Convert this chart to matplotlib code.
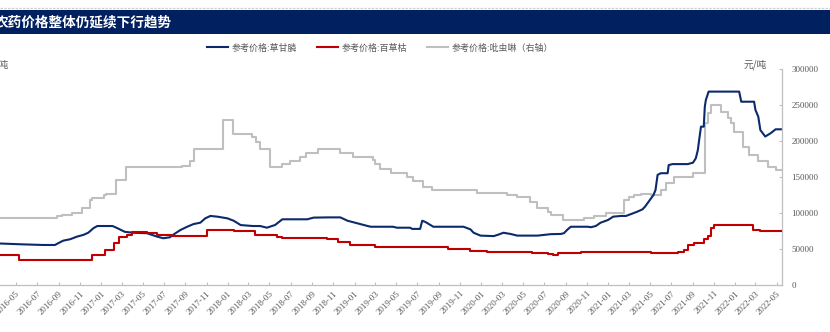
import matplotlib
matplotlib.use("Agg")
import matplotlib.pyplot as plt
import matplotlib.dates as mdates
import pandas as pd
from matplotlib.lines import Line2D
from matplotlib.patches import Rectangle

# 草甘膦 (left axis, 元/吨)
gly_dates = ["2016-03-01","2016-05-12","2016-07-18","2016-08-21","2016-08-30","2016-09-14","2016-10-04","2016-10-24","2016-11-11","2016-11-25","2016-12-10","2016-12-21",
             "2017-02-03","2017-02-17","2017-03-10","2017-04-03","2017-05-13","2017-06-11","2017-06-29","2017-07-18","2017-07-27","2017-08-17","2017-09-06","2017-09-24",
             "2017-10-14","2017-10-28","2017-11-12","2017-12-02","2017-12-31","2018-01-18","2018-02-07","2018-03-14","2018-04-04","2018-04-24","2018-05-08","2018-05-17",
             "2018-06-07","2018-08-18","2018-09-05","2018-10-18","2018-11-21","2018-12-12","2019-01-10","2019-02-08","2019-02-17","2019-04-22","2019-05-03","2019-06-10",
             "2019-06-16","2019-07-09","2019-07-15","2019-07-24","2019-08-16","2019-11-11","2019-12-01","2019-12-10","2019-12-30","2020-02-06","2020-02-17","2020-03-05",
             "2020-03-25","2020-04-14","2020-06-11","2020-07-19","2020-08-17","2020-08-26","2020-09-06","2020-09-15","2020-11-03","2020-11-12","2020-11-26","2020-12-10",
             "2020-12-31","2021-01-15","2021-02-07","2021-02-21","2021-03-06","2021-03-26","2021-04-10","2021-04-18","2021-04-27","2021-05-11","2021-05-17","2021-05-23",
             "2021-06-01","2021-06-21","2021-06-24","2021-07-05","2021-08-18","2021-09-02","2021-09-10","2021-09-16","2021-09-19","2021-09-25","2021-10-03","2021-10-06",
             "2021-10-09","2021-10-17","2022-01-13","2022-01-19","2022-02-25","2022-03-01","2022-03-09","2022-03-15","2022-03-29","2022-04-13","2022-04-28","2022-05-13"]
gly_vals = [17500,17100,16800,16800,17500,18600,19200,20300,21000,21900,23800,24700,
            24700,23800,22300,21900,21700,20300,19600,20000,21000,23000,24400,25500,
            26100,27900,28900,28600,27900,26900,25100,24700,24700,24000,24700,25100,
            27500,27500,28200,28300,28300,26900,25800,24700,24400,24400,24000,24000,
            23500,23500,26900,26400,24400,24400,23300,21900,20700,20500,21000,21900,
            21400,20700,20700,21300,21400,21700,23300,24400,24400,24200,24700,26100,
            27200,28600,28900,28900,29600,30700,31700,33000,34800,37600,39700,46000,
            46700,46700,50100,50500,50500,51100,52900,56400,59800,66100,66100,74400,
            77200,80700,80700,76500,76500,73000,70300,64700,62000,63300,65000,65000]

# 百草枯 (left axis)
pq_dates = ["2016-03-01","2016-05-09","2016-12-07","2017-01-11","2017-02-06","2017-02-23","2017-03-16","2017-03-31","2017-05-13","2017-06-11","2017-07-24",
            "2017-11-03","2018-01-18","2018-03-20","2018-05-23","2018-06-07","2018-10-15","2018-11-13","2018-12-20","2019-03-01","2019-09-26","2019-12-01",
            "2020-01-19","2020-05-27","2020-07-10","2020-07-27","2020-08-08","2020-10-14","2021-01-15","2021-05-03","2021-07-22","2021-08-06","2021-08-20",
            "2021-09-04","2021-10-03","2021-10-15","2021-10-23","2021-11-01","2022-02-22","2022-03-15","2022-05-13"]
pq_vals = [12600,10500,12600,14700,17800,20000,21000,22100,21700,21000,20500,
           23000,22600,21000,20300,19600,19200,18200,16800,16100,15100,14400,
           14000,13300,12900,12600,13600,13800,14000,13600,14000,14700,16800,
           17800,19200,20500,23800,25100,23000,22600,22600]

# 吡虫啉 (right axis)
imi_dates = ["2016-03-01","2016-08-27","2016-09-11","2016-10-10","2016-11-08","2016-11-29","2016-12-07","2017-01-08","2017-01-14","2017-02-14","2017-03-13","2017-05-27",
             "2017-08-23","2017-09-15","2017-09-27","2017-12-19","2018-01-15","2018-03-12","2018-03-23","2018-04-04","2018-05-03","2018-06-07","2018-06-30","2018-07-28",
             "2018-08-15","2018-09-19","2018-11-21","2018-12-29","2019-02-22","2019-03-01","2019-03-15","2019-04-16","2019-06-01","2019-06-19","2019-07-17","2019-08-13",
             "2019-11-02","2019-12-21","2020-03-16","2020-04-14","2020-05-21","2020-06-11","2020-07-10","2020-07-19","2020-08-23","2020-10-22","2020-11-20","2020-12-25",
             "2021-02-16","2021-03-01","2021-03-15","2021-04-04","2021-05-03","2021-06-01","2021-06-15","2021-07-08","2021-09-02","2021-10-06","2021-10-15","2021-10-23",
             "2021-11-22","2021-12-12","2021-12-20","2021-12-29","2022-01-24","2022-02-11","2022-03-07","2022-04-05","2022-04-28","2022-05-13"]
imi_vals = [94000,96000,97500,100000,108000,118000,121000,125000,127000,146000,165000,164000,
            166000,172000,190000,229000,210000,206000,199000,189000,165000,168000,173000,178000,
            184000,189000,184000,178000,174000,168000,161000,156000,150000,145000,137000,133000,
            132000,128500,125000,123000,116000,107000,102000,97500,90500,94000,96000,101000,
            118000,123000,125000,127000,125000,132000,142000,151000,156000,225000,239000,251000,
            241000,232000,226000,213000,192000,181000,172000,165000,160000,160000]

labels = ["参考价格:草甘膦", "参考价格:百草枯", "参考价格:吡虫啉（右轴）"]
colors = ["#0b2a6b", "#c00000", "#bfbfbf"]
title = "农药价格整体仍延续下行趋势"
right_ticks = [0, 50000, 100000, 150000, 200000, 250000, 300000]

W, H = 830, 332
CJK = ["Noto Sans CJK SC", "DejaVu Sans"]
NUM = ["Liberation Serif", "DejaVu Serif"]
GREY_TXT = "#595959"
AX_GREY = "#bfbfbf"


def fx(px): return px / W
def fy(py): return 1 - py / H


fig = plt.figure(figsize=(8.3, 3.32), dpi=100)
fig.add_artist(Line2D([0, 1], [fy(7.5), fy(7.5)], transform=fig.transFigure, color="#cfcfcf", lw=0.9, ls=(0, (2, 1))))
fig.add_artist(Rectangle((0, fy(34)), 1, 24 / H, transform=fig.transFigure, color="#002060", lw=0))
fig.text(fx(-5), fy(22), title, color="white", fontsize=9.8, fontweight="bold", family=CJK, va="center", ha="left")

ax = fig.add_axes([-0.0062, fy(285.3), 0.9478, 216 / H])
ax2 = ax.twinx()
ax.set_zorder(ax2.get_zorder() + 1); ax.patch.set_visible(False)

l1, = ax.plot(pd.to_datetime(gly_dates), gly_vals, color=colors[0], lw=1.5)
l2, = ax.plot(pd.to_datetime(pq_dates), pq_vals, color=colors[1], lw=1.5, drawstyle="steps-post")
l3, = ax2.plot(pd.to_datetime(imi_dates), imi_vals, color=colors[2], lw=1.5, drawstyle="steps-post")

ax.set_xlim(pd.Timestamp("2016-03-01"), pd.Timestamp("2022-05-15"))
ax.set_ylim(0, 90000); ax2.set_ylim(0, 300000)

for s in ["top", "left", "right"]:
    ax.spines[s].set_visible(False)
for s in ["top", "left", "bottom"]:
    ax2.spines[s].set_visible(False)
ax.spines["bottom"].set_color(AX_GREY); ax2.spines["right"].set_color(AX_GREY)
ax.spines["bottom"].set_linewidth(0.9); ax2.spines["right"].set_linewidth(0.9)

ax.tick_params(axis="y", left=False, labelleft=False)
ax.xaxis.set_major_locator(mdates.MonthLocator(bymonth=[1, 3, 5, 7, 9, 11]))
ax.xaxis.set_major_formatter(mdates.DateFormatter("%Y-%m"))
ax.tick_params(axis="x", direction="in", length=2.5, color=AX_GREY, labelcolor=GREY_TXT, labelsize=6.5, pad=3)
for t in ax.get_xticklabels():
    t.set_rotation(45); t.set_ha("right"); t.set_rotation_mode("anchor"); t.set_family(NUM)

ax2.set_yticks(right_ticks)
ax2.set_yticklabels([str(v) for v in right_ticks])
ax2.tick_params(axis="y", direction="in", length=2.5, color=AX_GREY, labelcolor=GREY_TXT, labelsize=6.5, pad=7)
for t in ax2.get_yticklabels():
    t.set_family(NUM)

fig.text(fx(9), fy(65), "元/吨", ha="right", va="center", fontsize=7, color=GREY_TXT, family=CJK)
fig.text(fx(767), fy(65), "元/吨", ha="right", va="center", fontsize=7, color=GREY_TXT, family=CJK)

fig.legend([l1, l2, l3], labels, loc="center", bbox_to_anchor=(fx(380), fy(48)), ncol=3, frameon=False,
           prop={"family": CJK, "size": 6.5}, handlelength=2.3, handletextpad=0.4, columnspacing=2.2, labelcolor=GREY_TXT)

fig.savefig("out.png", dpi=100)
